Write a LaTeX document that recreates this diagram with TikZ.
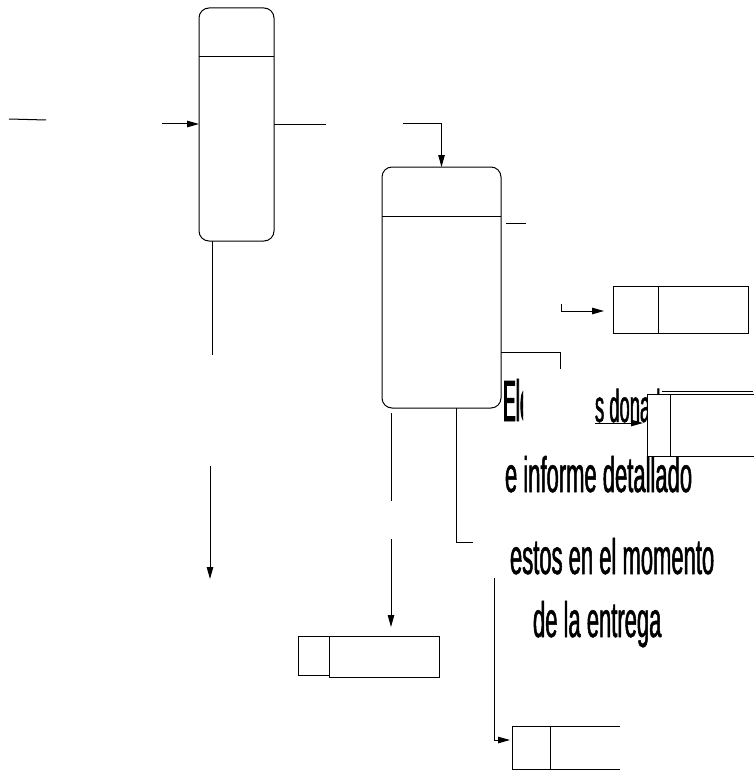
\documentclass[tikz,border=0pt]{standalone}
\usepackage{fontspec}
\usetikzlibrary{arrows.meta}
\newfontfamily\narrowA[FakeStretch=0.44,FakeBold=1]{Liberation Sans}
\newfontfamily\narrowB[FakeStretch=0.40,FakeBold=1]{Liberation Sans}
\newfontfamily\narrowC[FakeStretch=0.33,FakeBold=1.5]{Liberation Sans}
\begin{document}
\begin{tikzpicture}[x=1pt,y=-1pt, line width=1pt,
  procbox/.style={draw, rounded corners=10pt, inner sep=0pt, outer sep=0pt},
  storebox/.style={inner sep=0pt, outer sep=0pt, anchor=north west},
  flow/.style={-{Triangle[length=12pt,width=6.5pt]}},
  txt/.style={anchor=base west, inner sep=0pt, outer sep=0pt}]
\useasboundingbox (0,0) rectangle (753,773);

% process boxes
\node[procbox, minimum width=75pt, minimum height=233pt] (p1) at (236.5,124.5) {};
\draw (p1.west |- 0,57) -- (p1.east |- 0,57);
\node[procbox, minimum width=119pt, minimum height=241pt] (p2) at (441.5,287.5) {};
\draw (p2.west |- 0,216) -- (p2.east |- 0,216);

% text
\begin{scope}
\clip (500,370) rectangle (523,430);
\node[txt] (t1a) at (503,421) {\fontsize{58}{58}\selectfont\narrowC Ele};
\end{scope}
\node[txt] (t1b) at (595,422) {\fontsize{46}{46}\selectfont\narrowB s donados};
\node[txt] (t2) at (505,492) {\fontsize{50}{50}\selectfont\narrowA e informe detallado};
\node[txt] (t3) at (510,574) {\fontsize{50}{50}\selectfont\narrowA estos en el momento};
\node[txt] (t4) at (533,637) {\fontsize{50}{50}\selectfont\narrowA de la entrega};

% data stores
\node[storebox, draw, minimum width=135pt, minimum height=47pt] (ds1) at (613,286) {};
\draw (ds1.north west -| 658,0) -- (ds1.south west -| 658,0);

\node[storebox, draw, fill=white, minimum width=113pt, minimum height=62pt] (ds2) at (647,394) {};
\draw (ds2.north west -| 670,0) -- (ds2.south west -| 670,0);
\draw (662,391) -- (753,391);

\node[storebox, draw, minimum width=31pt, minimum height=39pt] (ds3a) at (298,636) {};
\node[storebox, draw, minimum width=110pt, minimum height=41pt] (ds3) at (329,636) {};

\node[storebox, minimum width=108pt, minimum height=43pt] (ds4) at (512,726) {};
\draw (ds4.north east) -- (ds4.north west) -- (ds4.south west) -- (ds4.south east);
\draw (ds4.north west -| 550,0) -- (ds4.south west -| 550,0);

% free ends
\coordinate (a1) at (9,119);   \coordinate (a2) at (46,120);
\coordinate (b1) at (162,124);
\coordinate (c2) at (326,125);
\coordinate (d2) at (212,355);
\coordinate (e1) at (210,466); \coordinate (e2) at (210,579);
\coordinate (f1) at (403,124);
\coordinate (g1) at (506,223); \coordinate (g2) at (526,223);
\coordinate (h1) at (561,304); \coordinate (h2) at (604,311);
\coordinate (i1) at (560,352); \coordinate (i2) at (560,369);
\coordinate (j1) at (595,423); \coordinate (j2) at (643,423);
\coordinate (k1) at (456,542); \coordinate (k2) at (473,542);
\coordinate (l1) at (391,413); \coordinate (l2) at (391,501);
\coordinate (m1) at (391,539); \coordinate (m2) at (391,627);
\coordinate (n1) at (494,578); \coordinate (n2) at (510,740);

% connectors
\draw (a1) -- (a2);
\draw[flow] (b1) -- (p1.west |- b1);
\draw (p1.east |- c2) -- (c2);
\draw (p1.south -| d2) -- (d2);
\draw[flow] (e1) -- (e2);
\draw[flow] (f1) -- (p2.north |- f1) -- (p2.north);
\draw (g1) -- (g2);
\draw[flow] (h1) |- (h2);
\draw (p2.east |- i1) -- (i1) -- (i2);
\draw[flow] (j1) -- (j2);
\draw (p2.south -| k1) -- (k1) -- (k2);
\draw (l1) -- (l2);
\draw[flow] (m1) -- (m2);
\draw[flow] (n1) |- (n2);
\end{tikzpicture}
\end{document}
